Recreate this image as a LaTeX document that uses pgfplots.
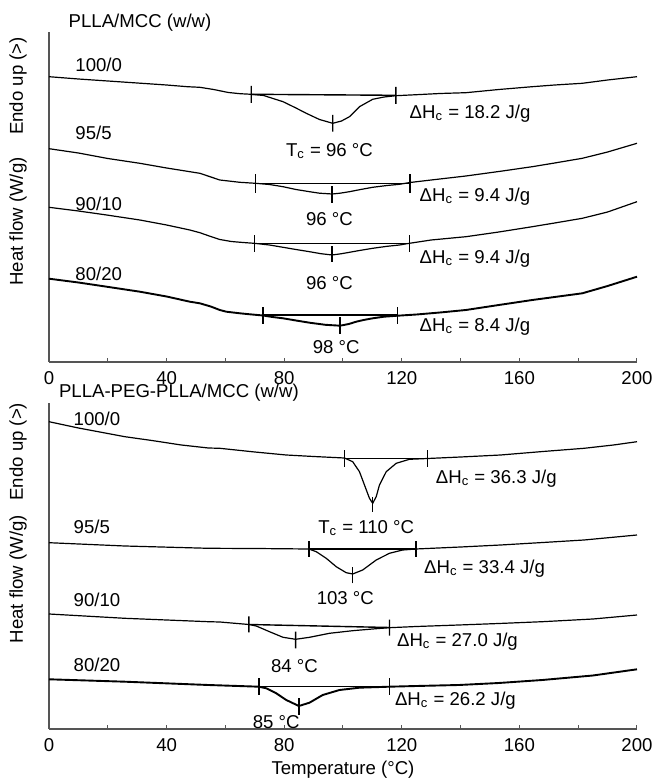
\documentclass[border=0pt]{standalone}
\usepackage{fontspec}
\setmainfont{Liberation Sans}
\usepackage{pgfplots}
\pgfplotsset{compat=1.18}
\definecolor{AxisGray}{HTML}{555555}

\pgfplotsset{
  dsc/.style={
    scale only axis, width=294pt,
    xmin=0, xmax=200, ymin=0,
    axis lines=left, axis line style={-, AxisGray, line width=0.6pt},
    xtick={0,40,...,200}, minor x tick num=1,
    ytick=\empty,
    tick align=inside, major tick length=2pt, minor tick length=2pt,
    tick style={AxisGray, line width=0.5pt},
    tick label style={font=\fontsize{9.3}{11}\selectfont},
    xticklabel style={yshift=-1pt},
    /pgf/number format/assume math mode=true,
    clip=false, unbounded coords=jump,
    every axis plot/.append style={line width=0.6pt},
    every axis plot post/.append style={black, mark=none},
    font=\fontsize{9.3}{11}\selectfont,
  },
  thick curve/.style={line width=0.95pt},
  marks/.style={line width=0.7pt},
}

\begin{document}
\begin{tikzpicture}
\useasboundingbox (0,0) rectangle (328.5pt,389pt);

% ---------- PLLA/MCC ----------
\begin{axis}[dsc, height=165pt, ymax=330, at={(24.5pt,208pt)}, anchor=south west]
\addplot coordinates {(0,285.3) (10,283) (20,281) (30,279) (40,277) (47,275.3) (51.3,274.7) (56,272.5) (61,269.5) (65,268.3) (68.8,267.7) (73,266.5) (79.6,260.3) (84,254) (87.5,248.7) (92,242.5) (96.5,238.7) (99.5,241) (102.2,245.3) (105.6,255.3) (110.1,262.7) (114,265) (118,266.3) (125,267.3) (133,268.5) (141.8,269.3) (153,272.5) (164.4,275.3) (172,277) (181.4,278.7) (190,282) (200,285.3)};
\addplot coordinates {(0,213.3) (10,209) (20,203.5) (30.9,198.7) (40,194) (47.9,190.3) (51.3,188.7) (58.1,182) (64.9,179.7) (70.2,178.7) (75,177.5) (79.6,175.3) (84,172.5) (88.6,170.3) (92,168.8) (96.3,168) (99,168.8) (102.2,170.3) (106,172.5) (110.1,174.7) (115,176.5) (119.2,177.7) (122.8,179.5) (130,182) (141.8,186) (153,190.5) (164.4,195.3) (172,199) (181.4,203.7) (190,210) (200,218.7)};
\addplot coordinates {(0,154.7) (10,151) (19.6,147) (30.9,142) (40,137) (47.9,132) (51.3,129.3) (55,125.5) (58.1,122.5) (62,120.5) (66,119.5) (69.8,118.7) (75,117) (79.6,114.7) (84,112.5) (88.6,110.3) (92.5,108.3) (96.3,107) (99.5,108.3) (102.2,109.7) (106,111.7) (110.1,113.7) (115,115.7) (119.2,117) (122.6,118.7) (130,122) (141.8,125.3) (153,130) (164.4,135.3) (172,139) (181.4,143.7) (190,150) (200,160.3)};
\addplot[thick curve] coordinates {(0,83.3) (10,79.5) (19.6,75.3) (30.9,70.3) (40,65.5) (47.9,60.3) (51.3,58.7) (55,55.5) (58.1,52) (60.3,50.3) (64.9,48.7) (68.3,47.7) (72.8,46.5) (76,45) (79.6,43.7) (84,41.5) (88.6,39.3) (94,37.2) (99,36.3) (102,38) (104.5,40.3) (107,42) (110.1,43.7) (114,45.3) (118.6,46.3) (125,47.5) (133,49.5) (141.8,52) (153,57) (164.4,62) (172,65) (181.4,68.7) (190,76) (200,85.3)};
% integration baselines and markers
\addplot[marks] coordinates {(68.8,267.7) (118,266.7) (nan,nan) (68.8,259.2) (68.8,276.2) (nan,nan) (118,258.2) (118,275.2) (nan,nan) (96.5,230.3) (96.5,247)};
\addplot[marks] coordinates {(70.2,178.7) (122.8,178.7) (nan,nan) (70.2,169.3) (70.2,188) (nan,nan) (122.8,169.3) (122.8,188) (nan,nan) (96.3,159.3) (96.3,176)};
\addplot[marks] coordinates {(69.8,118.7) (122.6,118.7) (nan,nan) (69.8,110.3) (69.8,127) (nan,nan) (122.6,110.3) (122.6,127) (nan,nan) (96.3,100.3) (96.3,116)};
\addplot[marks] coordinates {(72.8,47) (118.6,47) (nan,nan) (72.8,38) (72.8,55.3) (nan,nan) (118.6,38) (118.6,55.3) (nan,nan) (99,28) (99,45.3)};
% labels
\node[anchor=west] at (axis cs:4.3,339) {PLLA/MCC (w/w)};
\node[anchor=west] at (axis cs:6.6,297) {100/0};
\node[anchor=west] at (axis cs:6.6,228.7) {95/5};
\node[anchor=west] at (axis cs:6.6,157.7) {90/10};
\node[anchor=west] at (axis cs:6.6,87.7) {80/20};
\node[anchor=west] at (axis cs:120.3,248.7) {ΔH\textsubscript{c} = 18.2 J/g};
\node[anchor=west] at (axis cs:123.7,165.3) {ΔH\textsubscript{c} = 9.4 J/g};
\node[anchor=west] at (axis cs:123.7,103.7) {ΔH\textsubscript{c} = 9.4 J/g};
\node[anchor=west] at (axis cs:123.7,35.3) {ΔH\textsubscript{c} = 8.4 J/g};
\node at (axis cs:95.4,211.3) {T\textsubscript{c} = 96 °C};
\node at (axis cs:95.4,142.7) {96 °C};
\node at (axis cs:95.4,79.3) {96 °C};
\node at (axis cs:97.7,15.3) {98 °C};
\node[rotate=90] at (axis cs:-10.5,276) {Endo up (>)};
\node[rotate=90] at (axis cs:-10.5,140.5) {Heat flow (W/g)};
\end{axis}

% ---------- PLLA-PEG-PLLA/MCC ----------
\begin{axis}[dsc, height=163pt, ymax=326, at={(24.5pt,24.5pt)}, anchor=south west,
  xlabel={Temperature (°C)}, xlabel style={yshift=2pt}]
\addplot coordinates {(0,307.3) (10,301) (20,295.5) (25.8,292.3) (35,288.5) (45,284) (54.2,281) (58.1,280.7) (70,277) (80.7,274) (90,272.5) (100.5,271) (103.3,267.3) (105.6,257.3) (107.3,244) (109,230.7) (110.1,225.7) (111.3,232.3) (112.4,244) (114.7,257.3) (118.1,265.7) (122.6,269.7) (128.8,270.5) (140,272) (153.6,274) (168,277.5) (182,280.7) (192,284) (200,287.3)};
\addplot coordinates {(0,186.3) (25.8,183) (54.2,180.7) (70,180.5) (88.4,180) (90.9,177.3) (94.3,170.7) (97.7,162.3) (101.1,156.3) (103.3,155) (106.7,159) (111.3,169) (115.8,175.7) (120.3,179) (124.8,180) (140,182) (153.6,184) (168,186.5) (182,189) (200,194)};
\addplot coordinates {(0,115) (25.8,110.7) (54.2,107.3) (58.1,107) (68,104.5) (70.5,103) (75,97.3) (79.6,91.7) (83.9,89.7) (88.6,91.7) (95.4,95.7) (103.3,98.3) (111.3,100.3) (115.8,101.3) (125,102.5) (139.4,104) (153,105.5) (167.8,107.3) (185,110) (200,114)};
\addplot[thick curve] coordinates {(0,49.7) (25.8,47.3) (54.2,44) (71.4,42.3) (73.9,40.7) (77.3,35.7) (80.7,29) (85,23) (88.6,26.3) (93.1,34) (98.8,39) (105.6,41.3) (115.8,42.3) (125,43) (139.4,44) (153,46) (167.8,49) (185,53.5) (200,59.7)};
% integration baselines and markers
\addplot[marks] coordinates {(100.5,270.7) (128.8,270.7) (nan,nan) (100.5,262.3) (100.5,279) (nan,nan) (128.8,262.3) (128.8,279) (nan,nan) (110.1,217.3) (110.1,232.3)};
\addplot[marks] coordinates {(88.4,180) (124.8,180) (nan,nan) (88.4,172.3) (88.4,188.3) (nan,nan) (124.8,172.3) (124.8,188.3) (nan,nan) (103.3,145.7) (103.3,162.3)};
\addplot[marks] coordinates {(68,104.5) (115.8,101.5) (nan,nan) (68,96.5) (68,112.5) (nan,nan) (115.8,93.3) (115.8,109.3) (nan,nan) (83.9,80.7) (83.9,97.3)};
\addplot[marks] coordinates {(71.4,42.3) (115.8,42.3) (nan,nan) (71.4,34) (71.4,50.7) (nan,nan) (115.8,34) (115.8,50.7) (nan,nan) (85,14) (85,30.7)};
% labels
\node[anchor=west] at (axis cs:1,336) {PLLA-PEG-PLLA/MCC (w/w)};
\node[anchor=west] at (axis cs:6,309.7) {100/0};
\node[anchor=west] at (axis cs:6,202.3) {95/5};
\node[anchor=west] at (axis cs:6,129) {90/10};
\node[anchor=west] at (axis cs:6,64) {80/20};
\node[anchor=west] at (axis cs:129.2,250.7) {ΔH\textsubscript{c} = 36.3 J/g};
\node[anchor=west] at (axis cs:125.2,160.7) {ΔH\textsubscript{c} = 33.4 J/g};
\node[anchor=west] at (axis cs:116,87.3) {ΔH\textsubscript{c} = 27.0 J/g};
\node[anchor=west] at (axis cs:115.3,28.3) {ΔH\textsubscript{c} = 26.2 J/g};
\node at (axis cs:107.9,200.7) {T\textsubscript{c} = 110 °C};
\node at (axis cs:100.8,130.7) {103 °C};
\node at (axis cs:83.5,63.3) {84 °C};
\node at (axis cs:77.3,7.3) {85 °C};
\node[rotate=90] at (axis cs:-10.5,277.3) {Endo up (>)};
\node[rotate=90] at (axis cs:-10.5,149.8) {Heat flow (W/g)};
\end{axis}
\end{tikzpicture}
\end{document}
